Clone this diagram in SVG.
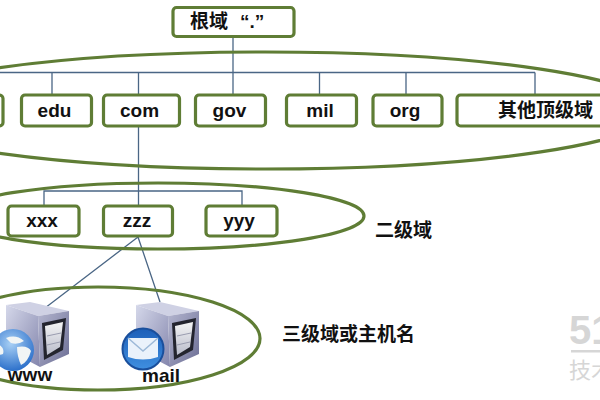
<svg xmlns="http://www.w3.org/2000/svg" width="600" height="400" viewBox="0 0 600 400">
  <style>
    text { font-family: "Liberation Sans", "Noto Sans CJK SC", sans-serif; font-weight: 700; fill: #111; }
    .lat { font-size: 19px; text-anchor: middle; }
    .cjk { font-size: 19px; }
    .box { fill: #fff; stroke: #5f7d35; stroke-width: 3.2; }
    .zone { fill: none; stroke: #5f7d35; stroke-width: 3.2; }
    .wire { fill: none; stroke: #4a6685; stroke-width: 1.3; }
    .mark { fill: #d6d6d6; }
  </style>
  <defs>
    <linearGradient id="caseSide" x1="0" y1="0" x2="1" y2="1">
      <stop offset="0" stop-color="#d5d8ea"/>
      <stop offset="1" stop-color="#8385ac"/>
    </linearGradient>
    <linearGradient id="caseFront" x1="0" y1="0" x2="1" y2="1">
      <stop offset="0" stop-color="#b4b6d0"/>
      <stop offset="1" stop-color="#6c6e94"/>
    </linearGradient>
    <linearGradient id="panel" x1="0" y1="0" x2="0" y2="1">
      <stop offset="0" stop-color="#f4f4f4"/>
      <stop offset="1" stop-color="#b9bccb"/>
    </linearGradient>
    <radialGradient id="earth" cx="0.45" cy="0.35" r="0.75">
      <stop offset="0" stop-color="#a8d0f5"/>
      <stop offset="1" stop-color="#1a62c4"/>
    </radialGradient>
    <linearGradient id="mailDisc" x1="0" y1="0" x2="0" y2="1">
      <stop offset="0" stop-color="#1d5fb8"/>
      <stop offset="1" stop-color="#3f8fe0"/>
    </linearGradient>
    <g id="server">
      <path d="M0 3 L24 0 L63 9 L32 14 Z" fill="#cfd1e4"/>
      <path d="M0 3 L32 14 L34 65 L0 47 Z" fill="url(#caseSide)"/>
      <path d="M32 14 L63 9 L63 52 L34 65 Z" fill="url(#caseFront)"/>
      <path d="M36 21 L60 16 L57 48 L38 58 Z" fill="#23242e"/>
      <path d="M39 24 L57 20 L54 45 L41 53 Z" fill="url(#panel)"/>
      <path d="M41 34 L55 31 M41 43 L54 40" stroke="#9a9db0" stroke-width="1" fill="none"/>
    </g>
  </defs>

  <!-- hierarchy connectors -->
  <g id="connectors">
    <path class="wire" d="M233 37V94"/>
    <path class="wire" d="M0 72.5H535"/>
    <path class="wire" d="M52 72.5V94M138.5 72.5V94M319.5 72.5V94M406 72.5V94M535 72.5V94"/>
    <path class="wire" d="M138.5 126V205"/>
    <path class="wire" d="M44 205V191H242V205"/>
    <path class="wire" d="M138 237L45 308M138 237L160 302"/>
  </g>

  <!-- domain level outlines -->
  <g id="zones">
    <ellipse class="zone" cx="265" cy="110.5" rx="390" ry="58.5"/>
    <ellipse class="zone" cx="158" cy="216" rx="206" ry="33"/>
    <ellipse class="zone" cx="98" cy="338.5" rx="162" ry="51.5"/>
  </g>

  <g id="root">
    <rect class="box" x="173" y="7.5" width="121" height="29" rx="3.5"/>
    <text class="cjk" x="190" y="28">根域<tspan dx="12">“.”</tspan></text>
  </g>

  <g id="tld-left"><rect class="box" x="-20" y="95" width="23" height="31" rx="3.5"/></g>
  <g id="edu"><rect class="box" x="21.5" y="95" width="70" height="31" rx="3.5"/><text class="lat" x="54.5" y="117">edu</text></g>
  <g id="com"><rect class="box" x="103.5" y="95" width="76" height="31" rx="3.5"/><text class="lat" x="139.5" y="117">com</text></g>
  <g id="gov"><rect class="box" x="195.5" y="95" width="70" height="31" rx="3.5"/><text class="lat" x="229.5" y="117">gov</text></g>
  <g id="mil"><rect class="box" x="286.5" y="95" width="70" height="31" rx="3.5"/><text class="lat" x="320" y="117">mil</text></g>
  <g id="org"><rect class="box" x="373" y="95" width="69" height="31" rx="3.5"/><text class="lat" x="405" y="117">org</text></g>
  <g id="other-tld"><rect class="box" x="457" y="95" width="160" height="31" rx="3.5"/><text class="cjk" x="498" y="117">其他顶级域</text></g>

  <g id="xxx"><rect class="box" x="8" y="206" width="71" height="30" rx="3.5"/><text class="lat" x="42" y="227">xxx</text></g>
  <g id="zzz"><rect class="box" x="103.5" y="206" width="69" height="30" rx="3.5"/><text class="lat" x="137" y="227">zzz</text></g>
  <g id="yyy"><rect class="box" x="206" y="206" width="71" height="30" rx="3.5"/><text class="lat" x="239" y="227">yyy</text></g>

  <g id="label-second"><text class="cjk" x="375" y="237">二级域</text></g>
  <g id="label-third"><text class="cjk" x="282" y="341">三级域或主机名</text></g>

  <g id="www">
    <use href="#server" x="6" y="302"/>
    <circle cx="13" cy="350" r="21" fill="url(#earth)"/>
    <path d="M6 338 Q16 334 24 341 Q18 345 11 343 Z M17 347 Q28 345 31 351 Q28 362 21 365 Q17 356 17 347 Z M-2 344 Q5 348 3 354 Q-2 356 -5 352 Z" fill="#f1f5f5"/>
    <text class="lat" x="30" y="381">www</text>
  </g>

  <g id="mail">
    <use href="#server" x="136" y="302"/>
    <circle cx="143" cy="349" r="20.5" fill="url(#mailDisc)" stroke="#1a4f9c" stroke-width="2"/>
    <path d="M128 338 L158 338 L158 357 Q143 362 128 357 Z" fill="#eaf2fb"/>
    <path d="M128 338 L143 351 L158 338" fill="none" stroke="#9db9d8" stroke-width="1.5"/>
    <text class="lat" x="161" y="382">mail</text>
  </g>

  <!-- corner watermark -->
  <g id="watermark">
    <text x="569" y="344" style="font-size:40px;fill:#d6d6d6">51</text>
    <rect class="mark" x="571" y="350" width="29" height="2.5"/>
    <text x="569" y="378" style="font-size:22px;fill:#d6d6d6;font-weight:400">技术</text>
  </g>
</svg>
